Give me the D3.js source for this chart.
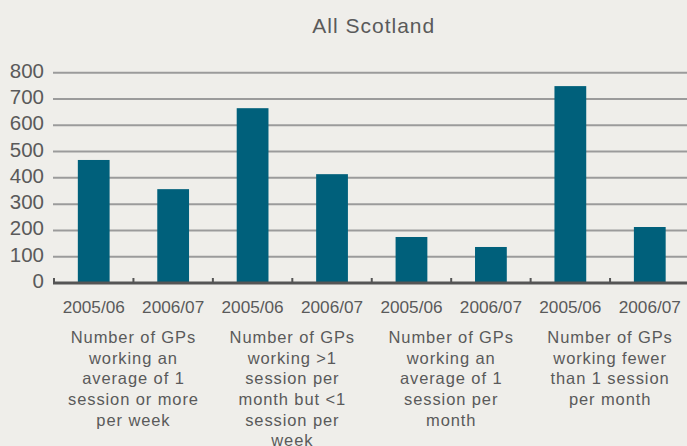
<!DOCTYPE html>
<html>
<head>
<meta charset="utf-8">
<script src="https://d3js.org/d3.v7.min.js"></script>
<style>
body { margin: 0; background: #efeeea; }
svg { display: block; }
text { font-family: "Liberation Sans", Arial, sans-serif; fill: #5a5a5a; }
</style>
</head>
<body>
<svg id="chart"></svg>
<script>
// categories, already broken into lines the way the original wraps them
var categories = [
  ["Number of GPs", "working an", "average of 1", "session or more", "per week"],
  ["Number of GPs", "working >1", "session per", "month but <1", "session per", "week"],
  ["Number of GPs", "working an", "average of 1", "session per", "month"],
  ["Number of GPs", "working fewer", "than 1 session", "per month"]
];
var years = ["2005/06", "2006/07"];
var values0506 = [468, 665, 175, 749];
var values0607 = [357, 414, 137, 213];
var yTicks = [0, 100, 200, 300, 400, 500, 600, 700, 800];

// (window.top is read-only, hence the prefixes)
var width = 687, height = 446;
var plotLeft = 54, plotRight = 689.5, plotTop = 72.7, plotBottom = 283;

var svg = d3.select("#chart").attr("width", width).attr("height", height);

var rows = [];
categories.forEach(function(c, i) {
  rows.push({ g: i, year: years[0], v: values0506[i] });
  rows.push({ g: i, year: years[1], v: values0607[i] });
});

var x0 = d3.scaleBand().domain(d3.range(categories.length)).range([plotLeft, plotRight]);
var x1 = d3.scaleBand().domain(years).range([0, x0.bandwidth()])
  .paddingInner(0.6).paddingOuter(0.3);
var y = d3.scaleLinear().domain([0, 800]).range([plotBottom, plotTop]);

// title
svg.append("text")
  .attr("x", (plotLeft + plotRight) / 2 + 2)
  .attr("y", 33.3)
  .attr("text-anchor", "middle")
  .style("font-size", "21px")
  .style("letter-spacing", "1px")
  .text("All Scotland");

// grid lines
svg.append("g").selectAll("line")
  .data(yTicks.slice(1))
  .enter().append("line")
  .attr("x1", plotLeft - 1).attr("x2", width)
  .attr("y1", function(d) { return y(d); })
  .attr("y2", function(d) { return y(d); })
  .attr("stroke", "#9b9b9b")
  .attr("stroke-width", 2);

// y labels
svg.append("g").selectAll("text")
  .data(yTicks)
  .enter().append("text")
  .attr("x", 44)
  .attr("y", function(d) { return y(d) + 5; })
  .attr("text-anchor", "end")
  .style("font-size", "20.5px")
  .text(function(d) { return d; });

// bars
svg.append("g").selectAll("rect")
  .data(rows)
  .enter().append("rect")
  .attr("x", function(d) { return x0(d.g) + x1(d.year); })
  .attr("width", x1.bandwidth())
  .attr("y", function(d) { return y(d.v); })
  .attr("height", function(d) { return y(0) - y(d.v); })
  .attr("fill", "#00607b");

// x axis line and the little ticks between bars
svg.append("line")
  .attr("x1", plotLeft - 1).attr("x2", width)
  .attr("y1", plotBottom).attr("y2", plotBottom)
  .attr("stroke", "#555555")
  .attr("stroke-width", 3);

var bounds = [];
categories.forEach(function(c, i) {
  bounds.push(x0(i));
  bounds.push(x0(i) + x0.bandwidth() / 2);
});
svg.append("g").selectAll("line")
  .data(bounds)
  .enter().append("line")
  .attr("x1", function(d) { return d; })
  .attr("x2", function(d) { return d; })
  .attr("y1", plotBottom - 5).attr("y2", plotBottom)
  .attr("stroke", "#555555")
  .attr("stroke-width", 2);

// year labels under each bar
svg.append("g").selectAll("text")
  .data(rows)
  .enter().append("text")
  .attr("x", function(d) { return x0(d.g) + x1(d.year) + x1.bandwidth() / 2; })
  .attr("y", 313.3)
  .attr("text-anchor", "middle")
  .style("font-size", "17.2px")
  .text(function(d) { return d.year; });

// category labels
var cat = svg.append("g").selectAll("text")
  .data(categories)
  .enter().append("text")
  .attr("text-anchor", "middle")
  .style("font-size", "16.5px")
  .style("letter-spacing", "0.9px")
  .attr("transform", function(d, i) { return "translate(" + (x0(i) + x0.bandwidth() / 2) + ",343.3)"; });

cat.selectAll("tspan")
  .data(function(d) { return d; })
  .enter().append("tspan")
  .attr("x", 0)
  .attr("y", function(d, i) { return i * 20.6; })
  .text(function(d) { return d; });
</script>
</body>
</html>
